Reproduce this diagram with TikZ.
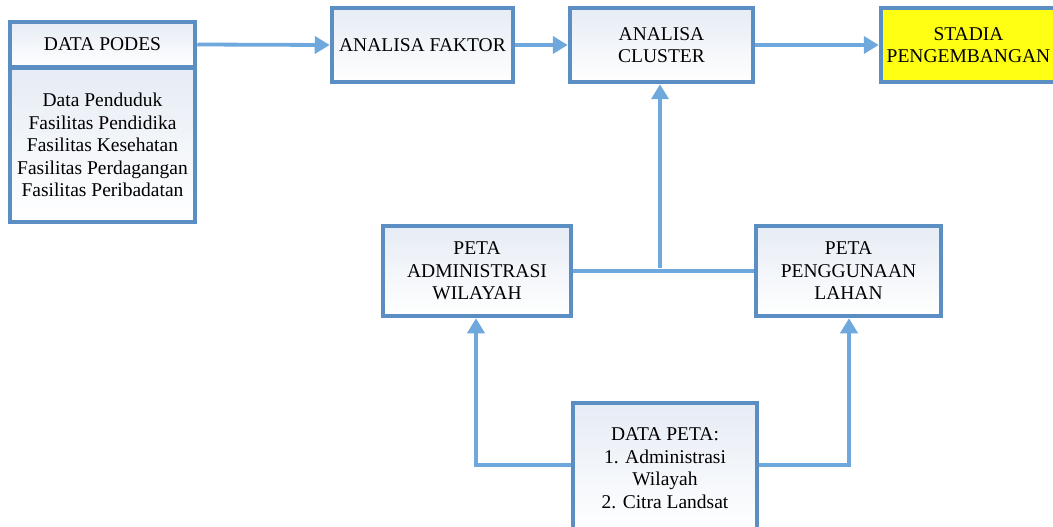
\documentclass[tikz,border=0pt]{standalone}
\usepackage{fontspec}
\setmainfont{Liberation Serif}
\usetikzlibrary{arrows.meta}
\definecolor{boxline}{HTML}{5B8EC2}
\definecolor{arrowcol}{HTML}{6FA8DC}
\definecolor{boxtop}{HTML}{E6ECF5}
\definecolor{stadiafill}{HTML}{FFFF14}
\tikzset{
  box/.style={draw=boxline, line width=4.5pt, top color=boxtop, bottom color=white, align=center,
    inner sep=0pt, font=\fontsize{19.5}{22.5}\selectfont},
  conn/.style={draw=arrowcol, line width=3.8pt},
  arr/.style={conn, -{Triangle[width=17pt,length=15pt]}},
}
\begin{document}
\begin{tikzpicture}[x=1pt,y=-1pt]
\useasboundingbox (0,0) rectangle (1053,527);
% top row
\node[box, minimum width=185pt, minimum height=45pt] (podes) at (102.5,44.5) {DATA PODES};
\node[box, minimum width=185pt, minimum height=154pt] (podesbody) at (102.5,145) {Data Penduduk\\Fasilitas Pendidika\\Fasilitas Kesehatan\\Fasilitas Perdagangan\\Fasilitas Peribadatan};
\node[box, minimum width=181pt, minimum height=74pt] (faktor) at (422.5,45) {ANALISA FAKTOR};
\node[box, minimum width=183pt, minimum height=74pt] (cluster) at (661.5,45) {ANALISA\\CLUSTER};
\node[box, fill=stadiafill, top color=stadiafill, bottom color=stadiafill, minimum width=180pt, minimum height=74pt] (stadia) at (971,45) {};
\node[font=\fontsize{19.5}{22.5}\selectfont, align=center, inner sep=0pt] (stadiatext) at (968.5,45) {STADIA\\PENGEMBANGAN};
% middle row
\node[box, minimum width=188pt, minimum height=90pt] (admin) at (477,271) {PETA\\ADMINISTRASI\\WILAYAH};
\node[box, minimum width=185pt, minimum height=90pt] (guna) at (848.5,271) {PETA\\PENGGUNAAN\\LAHAN};
% bottom
\node[box, minimum width=184pt, minimum height=130pt] (peta) at (665,468) {DATA PETA:\\1. Administrasi\\Wilayah\\2. Citra Landsat};
% connectors
\draw[arr] (podes.east) -- (faktor.west);
\draw[arr] (faktor.east) -- (cluster.west);
\draw[arr] (cluster.east) -- (stadia.west);
\draw[conn] (admin.east) -- (guna.west);
\coordinate (junc) at (660,268);
\draw[arr] (junc) -- (junc |- cluster.south);
\coordinate (lcorner) at (476,465);
\coordinate (rcorner) at (849,465);
\draw[arr] (peta.west |- lcorner) -- (lcorner) -- (lcorner |- admin.south);
\draw[arr] (peta.east |- rcorner) -- (rcorner) -- (rcorner |- guna.south);
\end{tikzpicture}
\end{document}
